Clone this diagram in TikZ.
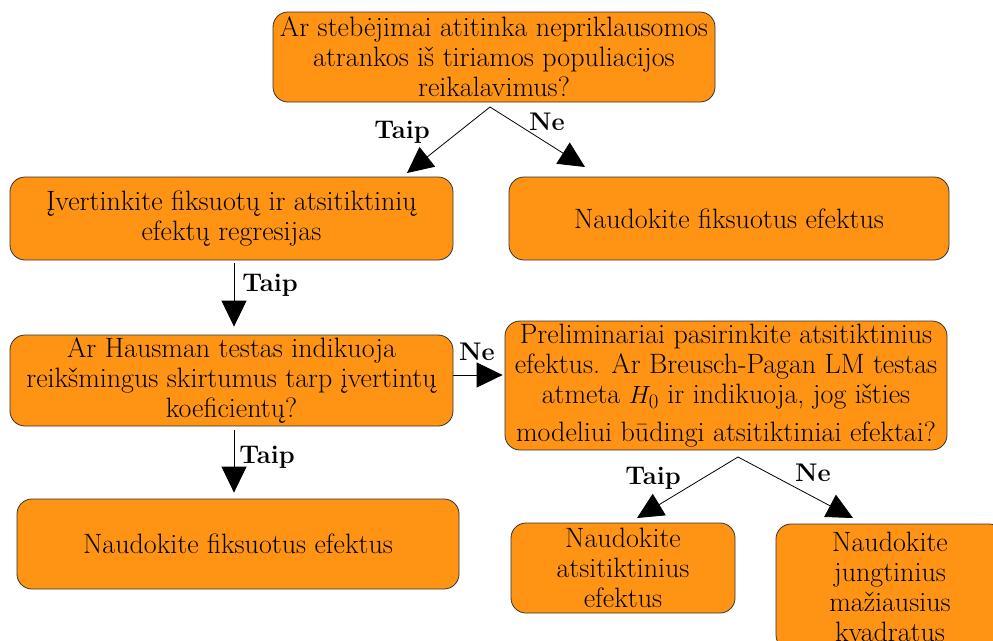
\documentclass[tikz,border=0pt]{standalone}
\usepackage{fontspec}
\usetikzlibrary{arrows.meta,calc}
\definecolor{boxorange}{HTML}{FF9414}
\definecolor{boxline}{HTML}{333333}
\begin{document}
\begin{tikzpicture}[x=1pt,y=-1pt,
  box/.style={draw=boxline, line width=0.8pt, fill=boxorange, rounded corners=15pt,
    align=center, inner sep=0pt, font=\fontsize{28}{30}\selectfont},
  lbl/.style={font=\fontsize{25.5}{28}\selectfont\bfseries, inner sep=0pt},
  arr/.style={draw=black, line width=0.8pt, -{Triangle[length=26pt,width=25pt]}}]
\useasboundingbox (0,0) rectangle (993,640);
\clip (0,0) rectangle (993,640);
\fill[white] (0,0) rectangle (993,640);

\node[box, minimum width=442pt, minimum height=90pt] (b1) at (494,57)
  {Ar stebėjimai atitinka nepriklausomos\\atrankos iš tiriamos populiacijos\\reikalavimus?};
\node[box, minimum width=443pt, minimum height=83pt] (b2) at (231.5,218.5)
  {Įvertinkite fiksuotų ir atsitiktinių\\efektų regresijas};
\node[box, minimum width=440pt, minimum height=83pt] (b3) at (729,218.5)
  {Naudokite fiksuotus efektus};
\node[box, minimum width=443pt, minimum height=91pt] (b4) at (231.5,380.5)
  {Ar Hausman testas indikuoja\\reikšmingus skirtumus tarp įvertintų\\koeficientų?};
\node[box, minimum width=442pt, minimum height=90pt] (b5) at (238,544)
  {Naudokite fiksuotus efektus};
\node[box, minimum width=442pt, minimum height=129pt] (b6) at (726,385.5)
  {Preliminariai pasirinkite atsitiktinius\\efektus. Ar Breusch-Pagan LM testas\\atmeta $H_{0}$ ir indikuoja, jog išties\\[8pt]modeliui būdingi atsitiktiniai efektai?};
\node[box, minimum width=224pt, minimum height=90pt] (b7) at (623,568)
  {Naudokite\\atsitiktinius\\efektus};
\node[box, minimum width=228pt, minimum height=126pt] (b8) at (890,587)
  {Naudokite\\jungtinius\\mažiausius\\kvadratus};

% fork below the first question
\coordinate (f1) at (490,107);
\coordinate (t1) at (407,173);
\coordinate (t2) at (585,167);
\draw[arr] (f1) -- (t1);
\draw[arr] (f1) -- (t2);
\node[lbl] (l1) at (402,132) {Taip};
\node[lbl] (l2) at (547,122) {Ne};

% b2 -> b4
\draw[arr, shorten <=3pt, shorten >=8pt] ([xshift=2.5pt]b2.south) -- ([xshift=2.5pt]b4.north);
\node[lbl] (l3) at (270,285) {Taip};

% b4 -> b5
\draw[arr, shorten <=4pt, shorten >=6pt] ([xshift=2.5pt]b4.south) -- ([xshift=2.5pt]b4.south |- b5.north);
\node[lbl] (l4) at (267,457) {Taip};

% b4 -> b6
\draw[arr, shorten >=2pt] ([yshift=5.5pt]b4.east) -- ([yshift=5.5pt]b4.east -| b6.west);
\node[lbl] (l5) at (477,352) {Ne};

% fork below b6
\coordinate (f2) at (738,457);
\coordinate (t3) at (637,518);
\coordinate (t4) at (853,518);
\draw[arr] (f2) -- (t3);
\draw[arr] (f2) -- (t4);
\node[lbl] (l6) at (653,478) {Taip};
\node[lbl] (l7) at (813,473) {Ne};
\end{tikzpicture}
\end{document}
